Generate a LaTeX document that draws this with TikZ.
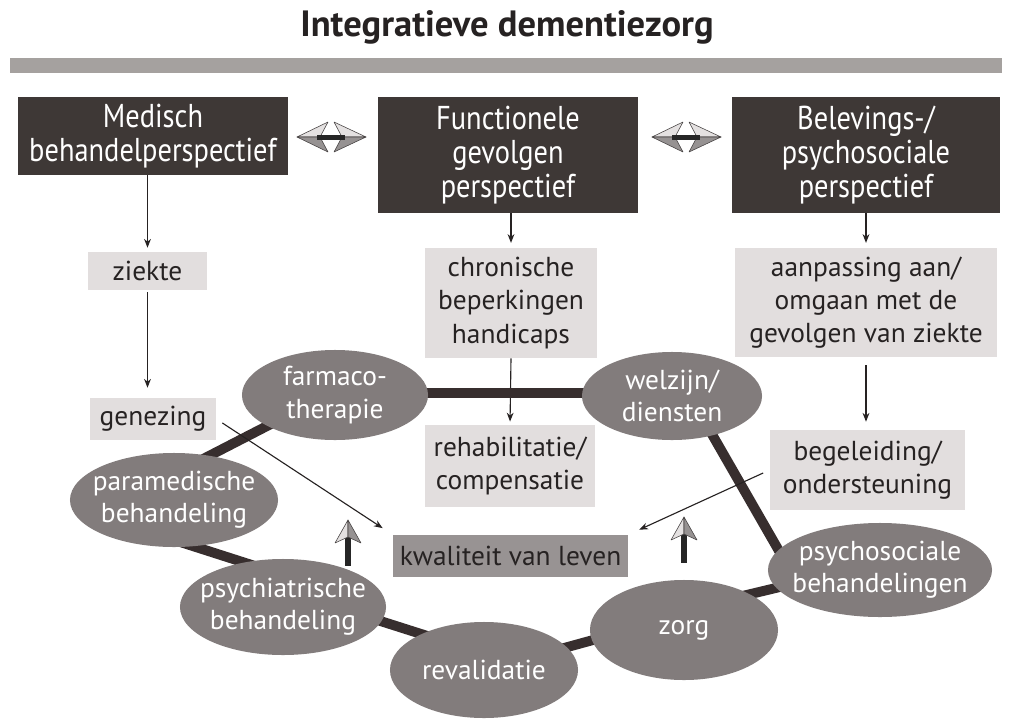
\documentclass[tikz,border=0pt]{standalone}
\usepackage{fontspec}
\setmainfont{PT Sans}
\newfontfamily\condfont{PT Sans}[FakeStretch=0.86]
\usetikzlibrary{arrows.meta,shapes.geometric}
\pgfdeclarelayer{background}
\pgfdeclarelayer{canvas}
\pgfsetlayers{canvas,background,main}
\definecolor{darkbox}{RGB}{62,56,54}
\definecolor{lightbox}{RGB}{226,222,222}
\definecolor{midbox}{RGB}{152,147,147}
\definecolor{ellfill}{RGB}{130,124,124}
\definecolor{barcol}{RGB}{55,46,46}
\definecolor{topbar}{RGB}{165,161,159}
\definecolor{txt}{RGB}{38,34,34}
\definecolor{headlight}{RGB}{228,225,225}
\definecolor{headdark}{RGB}{150,146,146}
\definecolor{headedge}{RGB}{70,66,66}
\begin{document}
\begin{tikzpicture}[x=0.025cm,y=-0.025cm,
  darkstyle/.style={rectangle,fill=darkbox,text=white,align=center,inner sep=2pt,
    font=\condfont\fontsize{23.5}{24}\selectfont},
  lightstyle/.style={rectangle,fill=lightbox,text=txt,align=center,inner sep=2pt,
    font=\fontsize{19.5}{23.5}\selectfont},
  kwalstyle/.style={rectangle,fill=midbox,text=txt,align=center,inner sep=2pt,
    font=\fontsize{19.5}{23.5}\selectfont},
  ellstyle/.style={ellipse,fill=ellfill,inner sep=0pt},
  elltext/.style={text=white,align=center,font=\fontsize{19.5}{23}\selectfont,inner sep=0pt},
  thinarrow/.style={draw=txt,line width=0.8pt,-{Stealth[length=0.22cm,width=0.17cm]}},
  ringbar/.style={draw=barcol,line width=7pt},
  headL/.style={fill=headlight,draw=headedge,line width=0.4pt,line join=round},
  headD/.style={fill=headdark,draw=headedge,line width=0.4pt,line join=round}
]
\useasboundingbox (0,0) rectangle (1014,724);
\begin{pgfonlayer}{canvas}
\fill[white] (0,0) rectangle (1014,724);
\end{pgfonlayer}

% title and top bar
\node[text=txt,font=\bfseries\fontsize{26}{30}\selectfont] (title) at (507,27) {Integratieve dementiezorg};
\fill[topbar] (10,58) rectangle (1002,73);

% perspective boxes
\node[darkstyle,minimum width=6.75cm,minimum height=1.95cm] (med) at (153,136) {Medisch\\behandelperspectief};
\node[darkstyle,minimum width=6.5cm,minimum height=2.9cm] (fun) at (508,155) {Functionele\\gevolgen\\perspectief};
\node[darkstyle,minimum width=6.7cm,minimum height=2.9cm] (bel) at (866,155) {Belevings-/\\psychosociale\\perspectief};

% light boxes
\node[lightstyle,minimum width=2.95cm,minimum height=0.95cm] (ziekte) at (147.5,271) {ziekte};
\node[lightstyle,minimum width=3.15cm,minimum height=1.05cm] (genezing) at (153,419) {genezing};
\node[lightstyle,minimum width=4.3cm,minimum height=2.75cm] (chron) at (511,303) {chronische\\beperkingen\\handicaps};
\node[lightstyle,minimum width=4.25cm,minimum height=2.05cm] (rehab) at (510,466) {rehabilitatie/\\compensatie};
\node[lightstyle,minimum width=6.55cm,minimum height=2.725cm] (aanp) at (866,302.5) {aanpassing aan/\\omgaan met de\\gevolgen van ziekte};
\node[lightstyle,minimum width=4.875cm,minimum height=2.0cm] (beg) at (867.5,470) {begeleiding/\\ondersteuning};
\node[kwalstyle,minimum width=5.875cm,minimum height=1.05cm] (kwal) at (510.5,556) {kwaliteit van leven};

% ellipses
\node[ellstyle,minimum width=4.65cm,minimum height=2.25cm,label={[elltext]center:{farmaco-\\therapie}}] (farm) at (335,395) {};
\node[ellstyle,minimum width=4.5cm,minimum height=2.2cm,label={[elltext]center:{welzijn/\\diensten}}] (welz) at (672,396) {};
\node[ellstyle,minimum width=5.2cm,minimum height=2.35cm,label={[elltext]center:{paramedische\\behandeling}}] (para) at (174,500) {};
\node[ellstyle,minimum width=5.15cm,minimum height=2.4cm,label={[elltext]center:{psychiatrische\\behandeling}}] (psychia) at (283,607) {};
\node[ellstyle,minimum width=4.7cm,minimum height=2.4cm,label={[elltext]center:{revalidatie}}] (reval) at (484,670) {};
\node[ellstyle,minimum width=4.7cm,minimum height=2.5cm,label={[elltext]center:{zorg}}] (zorg) at (684,630) {};
\node[ellstyle,minimum width=5.6cm,minimum height=2.35cm,label={[elltext]center:{psychosociale\\behandelingen}}] (psyso) at (880,570) {};

% ring bars behind ellipses
\begin{pgfonlayer}{background}
\draw[thinarrow,shorten >=0.08cm] (chron.south) -- (rehab.north);
\draw[ringbar] ([yshift=0.05cm]farm.center) -- ([yshift=0.075cm]welz.center);
\draw[ringbar] ([yshift=0.1cm]farm.center) -- ([yshift=0.65cm]para.center);
\draw[ringbar] ([yshift=-1.0cm]para.center) -- ([yshift=0.8cm]psychia.center);
\draw[ringbar] ([yshift=0.425cm]psychia.center) -- ([yshift=0.4cm]reval.center);
\draw[ringbar] (reval.center) -- ([yshift=0.375cm]zorg.center);
\draw[ringbar] ([yshift=0.5cm]zorg.center) -- ([yshift=0.175cm]psyso.center);
\draw[ringbar] ([xshift=0.45cm]welz.center) -- ([xshift=-2.25cm]psyso.center);
\end{pgfonlayer}

% thin arrows
\draw[thinarrow,shorten >=0.1cm] (ziekte.north |- med.south) -- (ziekte.north);
\draw[thinarrow,shorten >=0.25cm,shorten <=0.05cm] (ziekte.south) -- (ziekte.south |- genezing.north);
\draw[thinarrow,shorten >=0.12cm] (chron.north |- fun.south) -- (chron.north);
\draw[thinarrow,shorten >=0.12cm] (bel.south) -- (aanp.north);
\draw[thinarrow,shorten >=0.2cm,shorten <=0.2cm] (aanp.south) -- (aanp.south |- beg.north);
\draw[thinarrow,shorten <=0.18cm,shorten >=0.3cm] (genezing.east) -- (kwal.north west);
\draw[thinarrow,shorten <=0.18cm,shorten >=0.3cm] (beg.west) -- (kwal.north east);

% double arrows between perspectives
\coordinate (da1) at (331,137);
\coordinate (da2) at (686,137);
\foreach \c in {da1,da2}{
  \begin{scope}[shift={(\c)}]
    \path[headL] (-34,0) -- (-3,-15) -- (-11,0) -- cycle;
    \path[headD] (-34,0) -- (-11,0) -- (-3,15) -- cycle;
    \path[headL] (35,0) -- (3,-15) -- (11,0) -- cycle;
    \path[headD] (35,0) -- (11,0) -- (3,15) -- cycle;
    \fill[black!85] (-14,-2.5) rectangle (14,2.5);
  \end{scope}
}

% upward arrows towards quality of life
\coordinate (up1) at (348,566);
\coordinate (up2) at (684,563);
\foreach \c in {up1,up2}{
  \begin{scope}[shift={(\c)}]
    \fill[black!85] (-3,0) rectangle (3,-30);
    \path[headL] (0,-46) -- (-13,-23) -- (0,-29) -- cycle;
    \path[headD] (0,-46) -- (0,-29) -- (13,-23) -- cycle;
  \end{scope}
}
\end{tikzpicture}
\end{document}
